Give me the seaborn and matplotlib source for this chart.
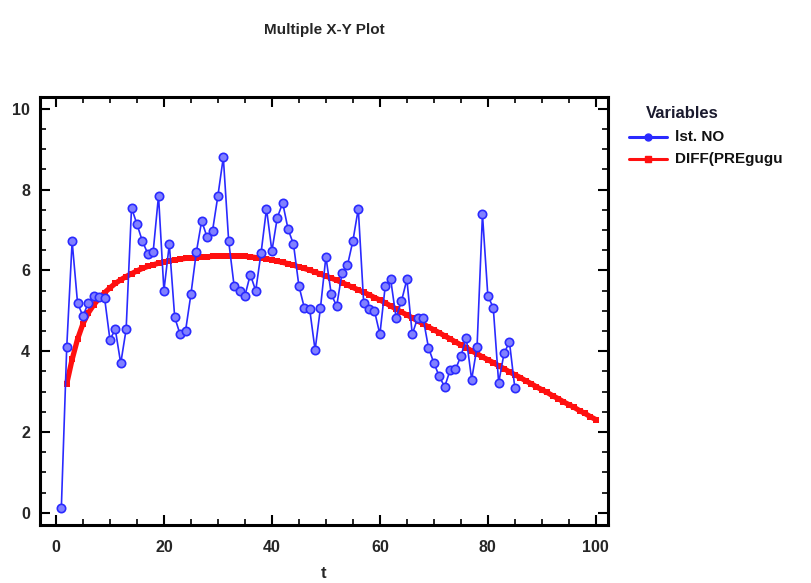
import matplotlib
matplotlib.use("Agg")
import matplotlib.pyplot as plt
import seaborn as sns
import pandas as pd
from matplotlib.ticker import MultipleLocator
from matplotlib.lines import Line2D

sns.set_theme(style="white")
plt.rcParams['font.family'] = ['Liberation Sans', 'DejaVu Sans']
plt.rcParams['font.weight'] = 'bold'

# Blue series: lst. NO (t = 1..85)
t_blue = list(range(1, 86))
lst_no = [0.12, 4.1, 6.72, 5.2, 4.87, 5.2, 5.37, 5.35, 5.33, 4.29,
          4.54, 3.7, 4.54, 7.55, 7.15, 6.73, 6.42, 6.45, 7.85, 5.5,
          6.65, 4.84, 4.42, 4.5, 5.41, 6.45, 7.23, 6.82, 6.98, 7.85,
          8.8, 6.72, 5.62, 5.5, 5.37, 5.9, 5.5, 6.44, 7.53, 6.48,
          7.31, 7.67, 7.02, 6.65, 5.62, 5.08, 5.04, 4.03, 5.08, 6.34,
          5.41, 5.12, 5.95, 6.13, 6.73, 7.53, 5.2, 5.04, 5.0, 4.42,
          5.62, 5.78, 4.83, 5.24, 5.78, 4.42, 4.83, 4.83, 4.09, 3.71,
          3.38, 3.12, 3.53, 3.55, 3.88, 4.33, 3.3, 4.11, 7.39, 5.37,
          5.08, 3.22, 3.95, 4.23, 3.09]

# Red series: DIFF(PREgugu (t = 2..100)
t_red = list(range(2, 101))
diff_pre = [3.20, 3.80, 4.30, 4.68, 4.95, 5.15, 5.31, 5.45, 5.57, 5.68,
            5.77, 5.85, 5.92, 5.99, 6.05, 6.10, 6.14, 6.18, 6.21, 6.24,
            6.26, 6.28, 6.30, 6.31, 6.32, 6.33, 6.34, 6.35, 6.35, 6.36,
            6.36, 6.36, 6.35, 6.35, 6.34, 6.32, 6.31, 6.29, 6.26, 6.23,
            6.20, 6.17, 6.13, 6.09, 6.05, 6.01, 5.96, 5.91, 5.86, 5.81,
            5.76, 5.70, 5.64, 5.58, 5.52, 5.46, 5.40, 5.33, 5.27, 5.20,
            5.12, 5.05, 4.97, 4.90, 4.83, 4.75, 4.68, 4.60, 4.53, 4.46,
            4.38, 4.31, 4.23, 4.16, 4.09, 4.01, 3.94, 3.86, 3.79, 3.72,
            3.64, 3.57, 3.49, 3.42, 3.35, 3.27, 3.20, 3.12, 3.05, 2.98,
            2.90, 2.83, 2.75, 2.68, 2.61, 2.53, 2.46, 2.38, 2.31]

x_ticks = [0, 20, 40, 60, 80, 100]
y_ticks = [0, 2, 4, 6, 8, 10]

df_blue = pd.DataFrame({"t": t_blue, "v": lst_no})
df_red = pd.DataFrame({"t": t_red, "v": diff_pre})

fig = plt.figure(figsize=(8.11, 5.83), dpi=100)
ax = fig.add_axes([0.049, 0.0995, 0.701, 0.7345])

sns.lineplot(data=df_red, x="t", y="v", ax=ax, color="#ff1010", linewidth=3.8,
             marker="s", markersize=4, markeredgewidth=0, markerfacecolor="#ff1010",
             zorder=2)
sns.lineplot(data=df_blue, x="t", y="v", ax=ax, color="#2a2aff", linewidth=1.2,
             marker="o", markersize=6, markerfacecolor="#8080ff",
             markeredgecolor="#2a2aff", markeredgewidth=1.2, zorder=3)

ax.set_xlim(-3, 102.3)
ax.set_ylim(-0.3, 10.3)
ax.set_xticks(x_ticks)
ax.set_yticks(y_ticks)
ax.xaxis.set_minor_locator(MultipleLocator(5))
ax.yaxis.set_minor_locator(MultipleLocator(0.5))
ax.tick_params(which="both", direction="in", top=True, right=True,
               bottom=True, left=True, color="black")
ax.tick_params(which="major", length=7, width=1.5, labelsize=11.5)
ax.tick_params(axis="x", which="major", pad=11)
ax.tick_params(axis="y", which="major", pad=7)
ax.tick_params(which="minor", length=4, width=1.2)
for lab in ax.get_xticklabels() + ax.get_yticklabels():
    lab.set_fontweight("bold")
for s in ax.spines.values():
    s.set_color("black")
    s.set_linewidth(2.2)
ax.set_xlabel("t", fontsize=12, fontweight="bold", labelpad=8)
ax.set_ylabel("")
ax.set_title("Multiple X-Y Plot", fontsize=11, fontweight="bold", pad=45)

# Legend on the right, outside the axes
fig.text(0.797, 0.806, "Variables", fontsize=12, fontweight="bold",
         ha="left", va="center", color="#1a1a2e")
lx0, lx1 = 0.775, 0.822
for yy, col, lab, mk in [(0.765, "#2a2aff", "lst. NO", "o"),
                         (0.728, "#ff1010", "DIFF(PREgugu", "s")]:
    fig.add_artist(Line2D([lx0, lx1], [yy, yy], transform=fig.transFigure,
                          color=col, linewidth=2.2))
    fig.add_artist(Line2D([(lx0 + lx1) / 2], [yy], transform=fig.transFigure,
                          color=col, marker=mk, markersize=5, linewidth=0))
    fig.text(0.832, yy, lab, fontsize=11, fontweight="bold", ha="left",
             va="center", color="#111111")

fig.savefig("out.png", dpi=100)
